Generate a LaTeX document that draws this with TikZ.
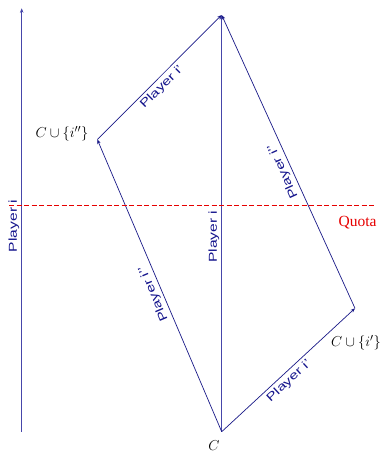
\documentclass[tikz,border=0pt]{standalone}
\usepackage{fontspec}
\setmainfont{Liberation Serif}
\newfontfamily\labelfont[FakeStretch=1.36]{Liberation Sans}
\usetikzlibrary{arrows.meta}
\definecolor{edgeblue}{RGB}{25,25,135}
\definecolor{axisblue}{RGB}{70,70,170}
\definecolor{labelblue}{RGB}{20,20,140}
\definecolor{quotared}{RGB}{230,0,0}
\begin{document}
\begin{tikzpicture}[x=1pt,y=-1pt,
  edge/.style={draw=edgeblue, line width=0.7pt, -{Stealth[length=4.5pt,width=3.5pt]}},
  axisline/.style={edge, draw=axisblue},
  quotaline/.style={draw=quotared, line width=0.9pt},
  plabel/.style={font=\labelfont\fontsize{11.5}{11.5}\selectfont, text=labelblue, inner sep=1pt},
  mathlabel/.style={font=\fontsize{15}{15}\selectfont, inner sep=0pt},
  quotalabel/.style={font=\fontsize{15.5}{15.5}\selectfont, text=quotared, inner sep=0pt},
]
\useasboundingbox (0,0) rectangle (386,453);
\coordinate (C) at (221.7,431.7);
\coordinate (T) at (221.7,15);
\coordinate (L) at (97.3,139.5);
\coordinate (R) at (355,308.3);
\coordinate (A0) at (21.7,431.7);
\coordinate (A1) at (21.7,8.3);
\coordinate (Q0) at (9,205);

\draw[axisline] (A0) -- node[plabel, pos=0.486, sloped, above=1pt] (lA) {Player i} (A1);
\draw[axisline] (C) -- node[plabel, pos=0.468, sloped, above=1pt] (lM) {Player i} (T);
\draw[edge] (C) -- node[plabel, pos=0.483, sloped, allow upside down, above=2pt] (lCL) {Player i’’} (L);
\draw[edge] (L) -- node[plabel, pos=0.47, sloped, below=2pt] (lLT) {Player i’} (T);
\draw[edge] (C) -- node[plabel, pos=0.46, sloped, below=2pt] (lCR) {Player i’} (R);
\draw[edge] (R) -- node[plabel, pos=0.48, sloped, allow upside down, above=2pt] (lRT) {Player i’’} (T);
\foreach \i in {0,...,48} {
  \draw[quotaline] ([xshift=\i*7.5pt]Q0) -- ++(5,0);
}

\node[mathlabel] (nL) at (62,134) {$C\cup\{i''\}$};
\node[mathlabel] (nR) at (356,343) {$C\cup\{i'\}$};
\node[mathlabel] (nC) at (214,446) {$C$};
\node[quotalabel] (nQ) at (357.5,223) {Quota};
\end{tikzpicture}
\end{document}
